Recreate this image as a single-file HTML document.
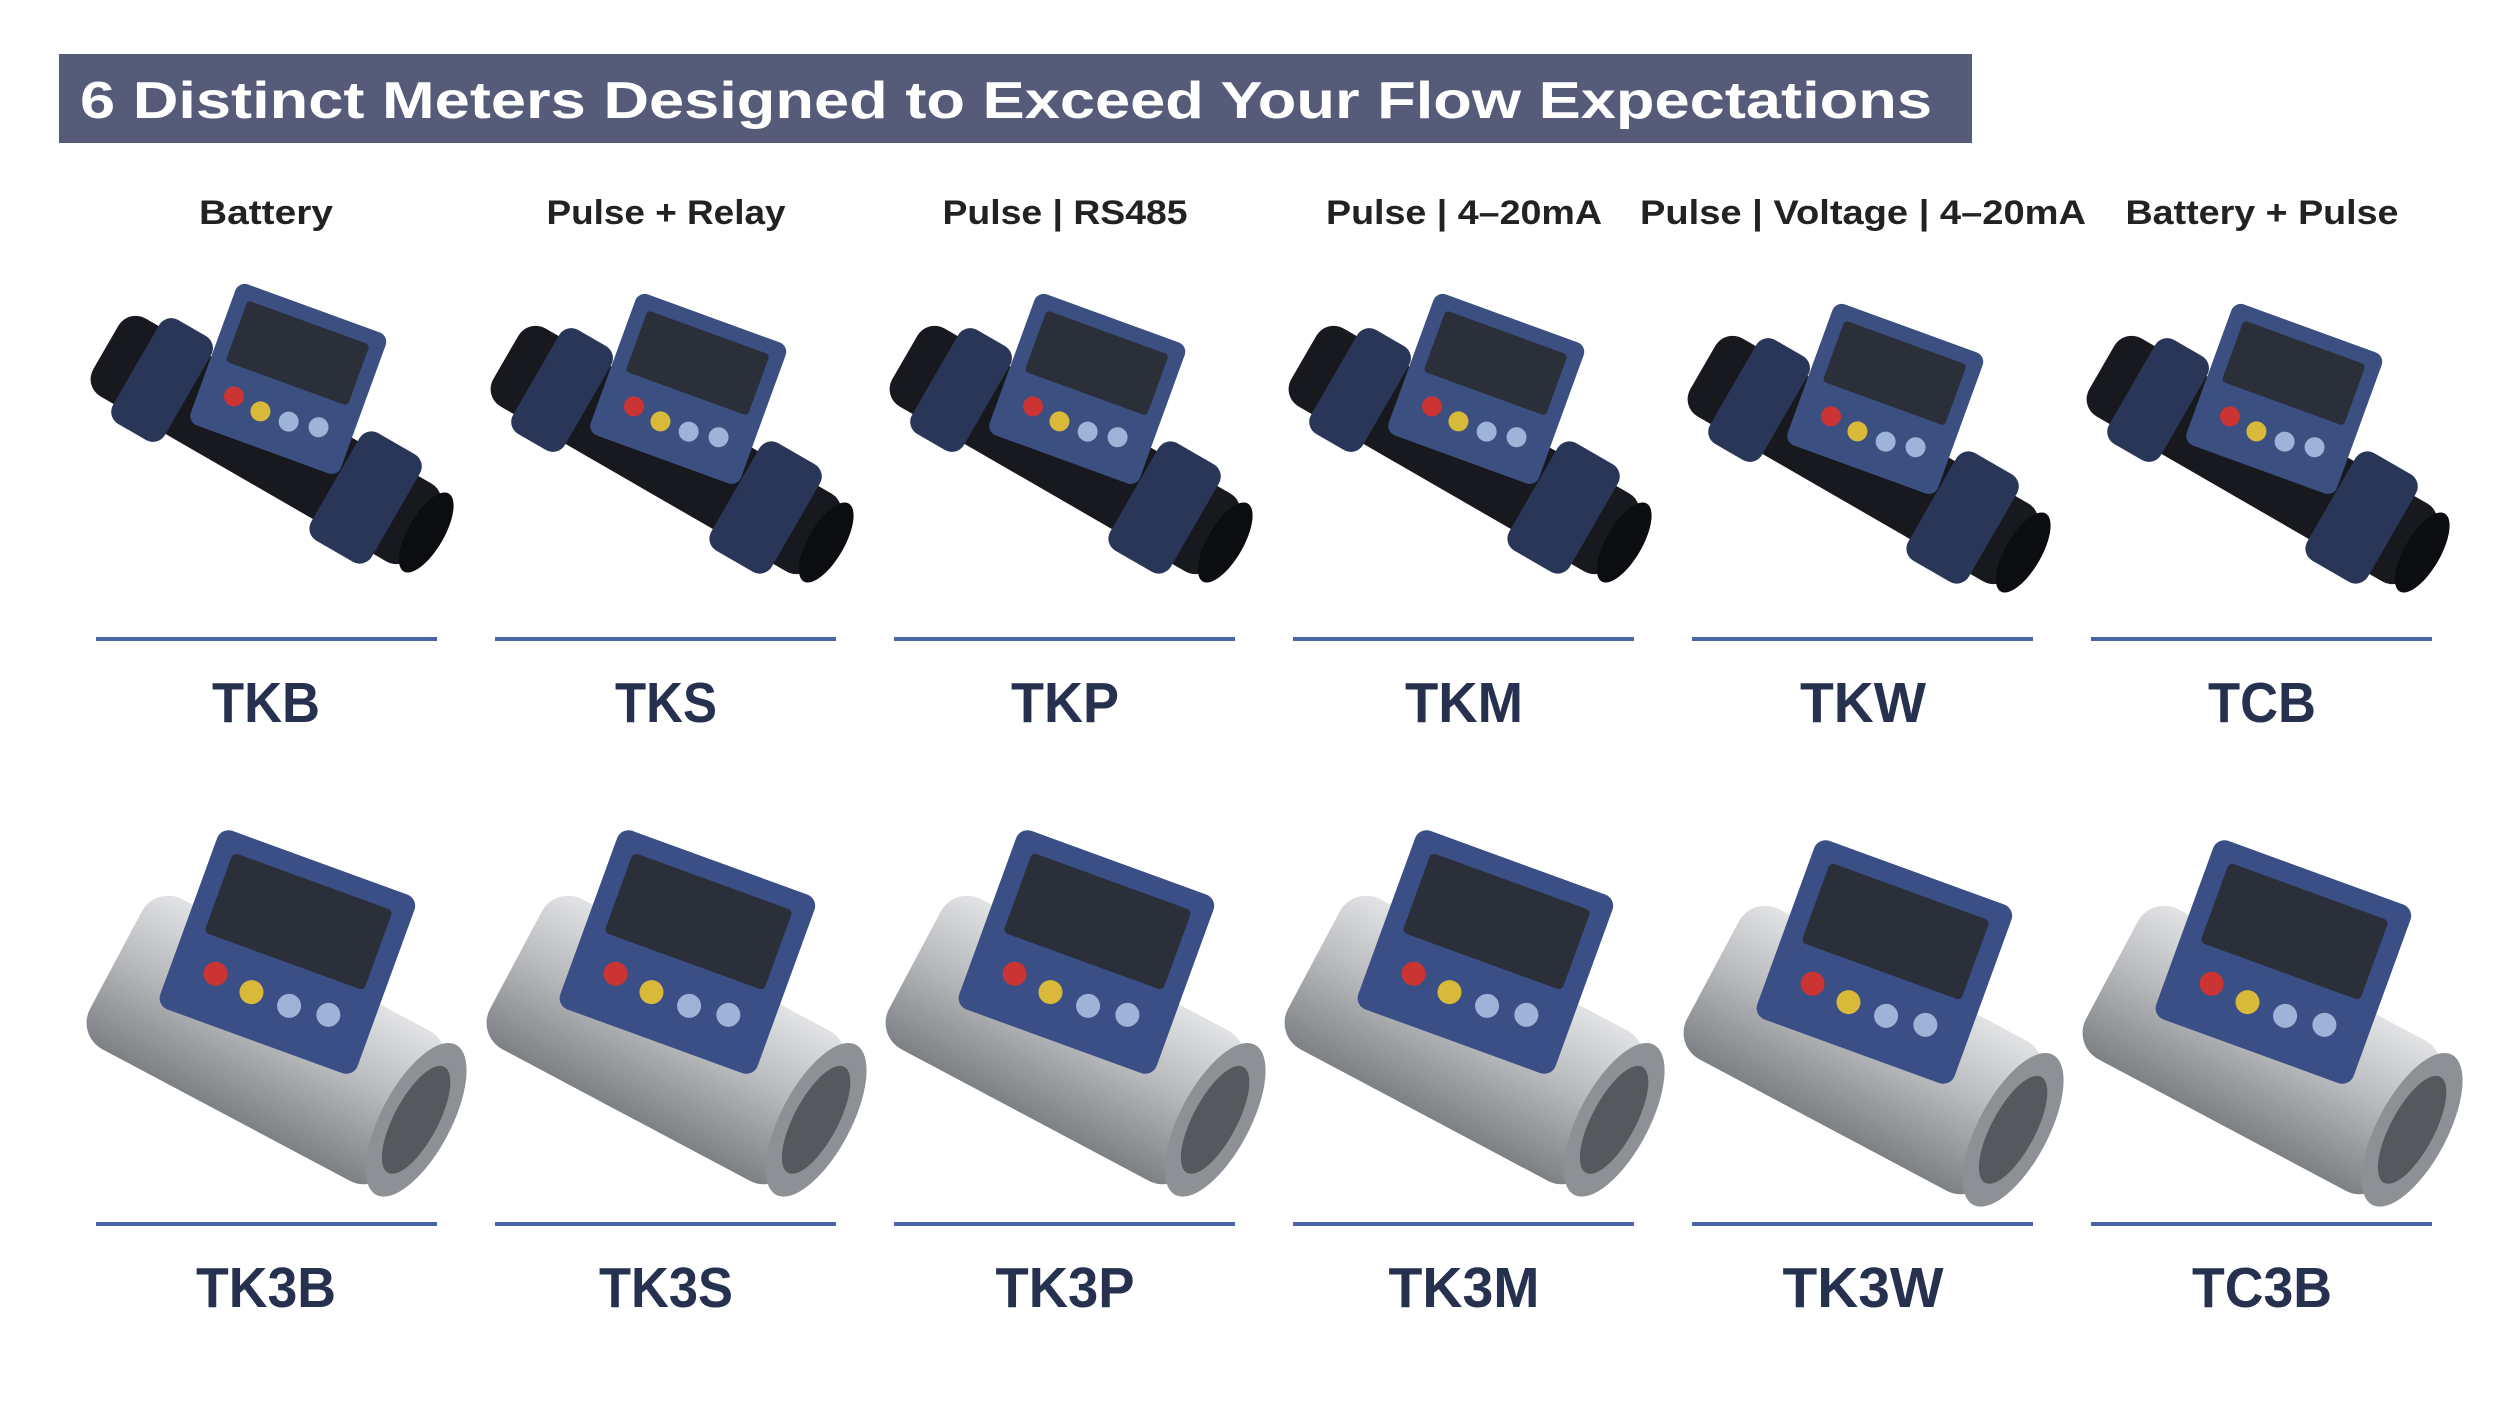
<!DOCTYPE html>
<html><head><meta charset="utf-8"><style>
html,body{margin:0;padding:0;background:#fff;}
svg{display:block}
text{font-family:"Liberation Sans",sans-serif;font-weight:bold}
</style></head><body>
<svg width="2500" height="1406" viewBox="0 0 2500 1406" xmlns="http://www.w3.org/2000/svg">
<defs>
<linearGradient id="sil" x1="0" y1="0" x2="0" y2="1">
<stop offset="0" stop-color="#e2e3e5"/><stop offset="0.45" stop-color="#b9bbbe"/><stop offset="1" stop-color="#7d8084"/>
</linearGradient>
<g id="m1">
<g transform="rotate(30)">
<rect x="-185" y="-45" width="370" height="90" rx="20" fill="#17191e"/>
<rect x="-150" y="-60" width="60" height="120" rx="14" fill="#2a3658"/>
<rect x="80" y="-62" width="70" height="124" rx="14" fill="#2a3658"/>
<ellipse cx="185" cy="0" rx="18" ry="45" fill="#0c0d10"/>
</g>
<g transform="rotate(20) translate(0,-70)">
<rect x="-80" y="-70" width="160" height="150" rx="10" fill="#3b4f80"/>
<rect x="-65" y="-55" width="130" height="65" rx="4" fill="#2a2f3a"/>
<circle cx="-45" cy="40" r="10" fill="#c33"/><circle cx="-15" cy="45" r="10" fill="#d9b93a"/><circle cx="15" cy="45" r="10" fill="#9fb3d8"/><circle cx="45" cy="40" r="10" fill="#9fb3d8"/>
</g>
</g>
<g id="m2">
<g transform="rotate(28)">
<rect x="-170" y="-85" width="340" height="170" rx="30" fill="url(#sil)"/>
<ellipse cx="170" cy="0" rx="35" ry="85" fill="#8d9094"/>
<ellipse cx="170" cy="0" rx="22" ry="60" fill="#55585c"/>
</g>
<g transform="rotate(20) translate(-10,-95)">
<rect x="-105" y="-90" width="210" height="190" rx="12" fill="#3a4f85"/>
<rect x="-85" y="-70" width="170" height="85" rx="5" fill="#2a2f3a"/>
<circle cx="-60" cy="50" r="12" fill="#c33"/><circle cx="-20" cy="55" r="12" fill="#d9b93a"/><circle cx="20" cy="55" r="12" fill="#9fb3d8"/><circle cx="60" cy="50" r="12" fill="#9fb3d8"/>
</g>
</g>
</defs>

<rect x="59" y="54" width="1913" height="89" fill="#575b7a"/>
<text x="80" y="118" font-size="52" fill="#ffffff" textLength="1852" lengthAdjust="spacingAndGlyphs">6 Distinct Meters Designed to Exceed Your Flow Expectations</text>

<g font-size="34" fill="#222" text-anchor="middle">
<text x="266" y="224" textLength="134" lengthAdjust="spacingAndGlyphs">Battery</text>
<text x="666" y="224" textLength="239" lengthAdjust="spacingAndGlyphs">Pulse + Relay</text>
<text x="1065" y="224" textLength="245" lengthAdjust="spacingAndGlyphs">Pulse | RS485</text>
<text x="1464" y="224" textLength="276" lengthAdjust="spacingAndGlyphs">Pulse | 4–20mA</text>
<text x="1863" y="224" textLength="446" lengthAdjust="spacingAndGlyphs">Pulse | Voltage | 4–20mA</text>
<text x="2262" y="224" textLength="273" lengthAdjust="spacingAndGlyphs">Battery + Pulse</text>
</g>

<use href="#m1" transform="translate(266,440)"/>
<use href="#m1" transform="translate(666,450)"/>
<use href="#m1" transform="translate(1065,450)"/>
<use href="#m1" transform="translate(1464,450)"/>
<use href="#m1" transform="translate(1863,460)"/>
<use href="#m1" transform="translate(2262,460)"/>

<use href="#m2" transform="translate(266,1040)"/>
<use href="#m2" transform="translate(666,1040)"/>
<use href="#m2" transform="translate(1065,1040)"/>
<use href="#m2" transform="translate(1464,1040)"/>
<use href="#m2" transform="translate(1863,1050)"/>
<use href="#m2" transform="translate(2262,1050)"/>

<g fill="#4a66a6">
<rect x="96" y="637" width="341" height="4"/><rect x="495" y="637" width="341" height="4"/><rect x="894" y="637" width="341" height="4"/><rect x="1293" y="637" width="341" height="4"/><rect x="1692" y="637" width="341" height="4"/><rect x="2091" y="637" width="341" height="4"/>
<rect x="96" y="1222" width="341" height="4"/><rect x="495" y="1222" width="341" height="4"/><rect x="894" y="1222" width="341" height="4"/><rect x="1293" y="1222" width="341" height="4"/><rect x="1692" y="1222" width="341" height="4"/><rect x="2091" y="1222" width="341" height="4"/>
</g>

<g font-size="57" fill="#26304f" text-anchor="middle">
<text x="266" y="722" textLength="108" lengthAdjust="spacingAndGlyphs">TKB</text>
<text x="666" y="722" textLength="102" lengthAdjust="spacingAndGlyphs">TKS</text>
<text x="1065" y="722" textLength="108" lengthAdjust="spacingAndGlyphs">TKP</text>
<text x="1464" y="722" textLength="118" lengthAdjust="spacingAndGlyphs">TKM</text>
<text x="1863" y="722" textLength="126" lengthAdjust="spacingAndGlyphs">TKW</text>
<text x="2262" y="722" textLength="108" lengthAdjust="spacingAndGlyphs">TCB</text>
<text x="266" y="1307" textLength="140" lengthAdjust="spacingAndGlyphs">TK3B</text>
<text x="666" y="1307" textLength="134" lengthAdjust="spacingAndGlyphs">TK3S</text>
<text x="1065" y="1307" textLength="139" lengthAdjust="spacingAndGlyphs">TK3P</text>
<text x="1464" y="1307" textLength="151" lengthAdjust="spacingAndGlyphs">TK3M</text>
<text x="1863" y="1307" textLength="161" lengthAdjust="spacingAndGlyphs">TK3W</text>
<text x="2262" y="1307" textLength="140" lengthAdjust="spacingAndGlyphs">TC3B</text>
</g>
</svg>
</body></html>
